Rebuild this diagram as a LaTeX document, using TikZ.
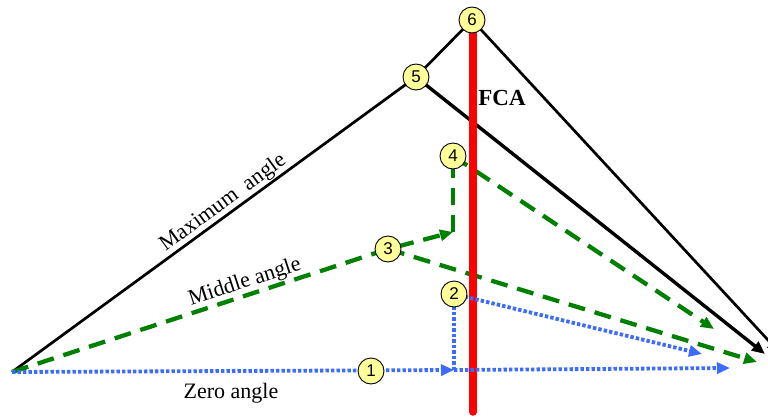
\documentclass[tikz,border=0pt]{standalone}
\usepackage{fontspec}
\setmainfont{Liberation Serif}
\newfontfamily\numfont{Liberation Sans}
\usetikzlibrary{arrows.meta}
\definecolor{fgreen}{RGB}{0,128,0}
\definecolor{fblue}{RGB}{59,107,255}
\definecolor{fyel}{RGB}{255,255,153}
\definecolor{fred}{RGB}{255,0,0}
\pgfdeclarelayer{bg}
\pgfsetlayers{bg,main}
\begin{document}
\begin{tikzpicture}[x=1pt,y=-1pt,
  num/.style={circle,draw=black,line width=0.9pt,fill=fyel,minimum size=26pt,inner sep=0pt,font=\numfont\fontsize{17}{17}\selectfont},
  lbl/.style={font=\fontsize{22}{22}\selectfont,inner sep=0.5pt},
  tip/.style={-{Triangle[length=13pt,width=11pt]}},
  blk/.style={draw=black,line width=2.7pt},
  blkthick/.style={draw=black,line width=3.4pt},
  grn/.style={draw=fgreen,line width=4.3pt,dash pattern=on 17pt off 10pt},
  blu/.style={draw=fblue,line width=3.8pt,dash pattern=on 3.4pt off 2.1pt},
  redline/.style={draw=fred,line width=7.5pt,line cap=round}
]
\useasboundingbox (0,0) rectangle (768,420);
\coordinate (O) at (12,372);
\node[num] (n1) at (371,371) {1};
\node[num] (n2) at (454,294) {2};
\node[num] (n3) at (388,249) {3};
\node[num] (n4) at (453,156) {4};
\node[num] (n5) at (416,77) {5};
\node[num] (n6) at (472,20) {6};
\coordinate (b1) at (454,370);
\coordinate (bE) at (730,368);
\coordinate (bD) at (702,354);
\coordinate (g1) at (453,232);
\coordinate (gD) at (714,329);
\coordinate (gE) at (757,362);
\coordinate (kE) at (765,354);
\coordinate (kF) at (780,353);
\coordinate (rT) at (473,33);
\coordinate (rB) at (473,412);
\begin{pgfonlayer}{bg}
  % black lines
  \draw[blk] (O) -- node[lbl,sloped,above,pos=0.54] {Maximum\ \ angle} (n5.center);
  \draw[blk] (n5.center) -- (n6.center);
  \draw[blk,tip] (n6.center) -- (kF);
  \draw[blkthick,tip] (n5.center) -- (kE);
  % green lines
  \draw[grn,tip] (O) -- node[lbl,sloped,above,pos=0.63] {Middle angle} (n3.center) -- (g1);
  \draw[grn] (g1) -- (n4.center);
  \draw[grn,tip] (n4.center) -- (gD);
  \draw[grn,tip] (n3.center) -- (gE);
  % red FCA line
  \draw[redline] (rT) -- (rB);
  % blue lines
  \draw[blu,tip] (O) -- (b1);
  \draw[blu] (b1) -- (n2.center);
  \draw[blu,tip] (b1) -- (bE);
  \draw[blu,tip] (n2.center) -- (bD);
\end{pgfonlayer}
\node[lbl] (zero) at (231,393) {Zero angle};
\node[font=\bfseries\fontsize{23}{23}\selectfont] (fca) at (502,98) {FCA};
\end{tikzpicture}
\end{document}
